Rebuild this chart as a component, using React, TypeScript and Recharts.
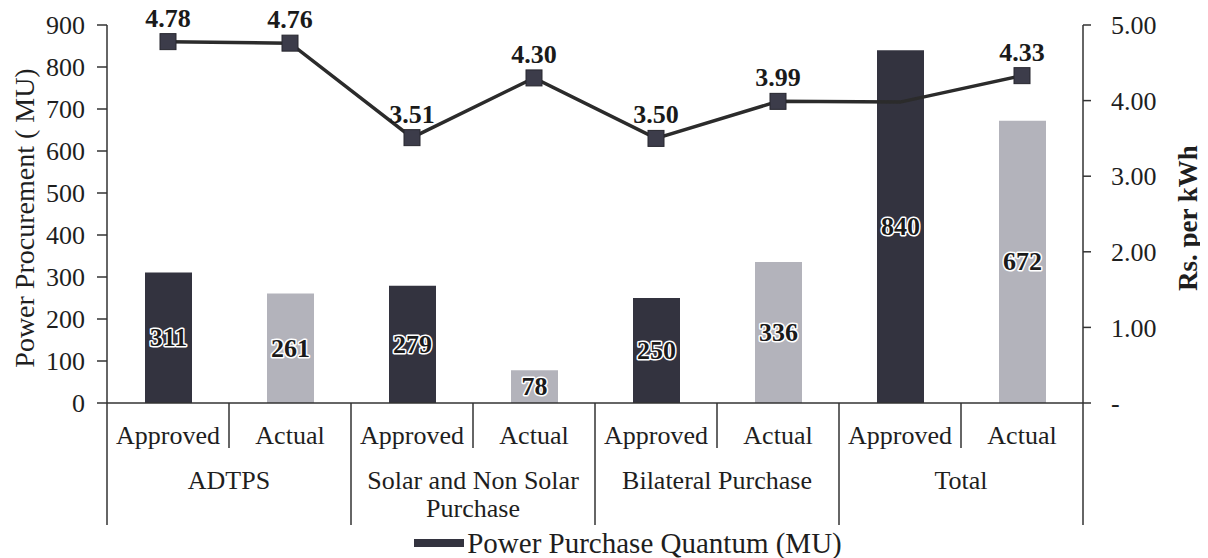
import React from 'react';
import { ComposedChart, Bar, Line, XAxis, YAxis, Cell, LabelList, Legend } from 'recharts';

const groupLines: string[][] = [['ADTPS'], ['Solar and Non Solar', 'Purchase'], ['Bilateral Purchase'], ['Total']];
const subLabels = ['Approved', 'Actual', 'Approved', 'Actual', 'Approved', 'Actual', 'Approved', 'Actual'];
const quantum = [311, 261, 279, 78, 250, 336, 840, 672];
const rate = [4.78, 4.76, 3.51, 4.3, 3.5, 3.99, 3.98, 4.33];
// label texts shown above the rate markers (the Total/Approved point sits hidden behind its bar)
const rateLabels = ['4.78', '4.76', '3.51', '4.30', '3.50', '3.99', '', '4.33'];
const leftTicks = [0, 100, 200, 300, 400, 500, 600, 700, 800, 900];
const rightTicks = [0, 1, 2, 3, 4, 5];

const data = subLabels.map((s, i) => ({
  id: `${groupLines[Math.floor(i / 2)].join(' ')}|${s}`,
  quantum: quantum[i],
  rate: rate[i],
  rateLabel: rateLabels[i],
}));

const FONT = '"Liberation Serif", "Times New Roman", serif';
const DARK = '#33333f';
const LIGHT = '#b3b3bb';
const TEXT = '#1e1e1e';

const XTick = (props: any) => {
  const { x, y, index, width } = props;
  const n = subLabels.length;
  const bw = width ? width / n : 122;
  const els: any[] = [];
  els.push(
    <text key="s" x={x} y={y + 41} textAnchor="middle" fontFamily={FONT} fontSize={26} fill={TEXT}>
      {subLabels[index]}
    </text>
  );
  if (index % 2 === 0) {
    els.push(<line key="d" x1={x + bw / 2} x2={x + bw / 2} y1={y} y2={y + 45} stroke="#333" strokeWidth={1.5} />);
    els.push(<line key="g" x1={x - bw / 2} x2={x - bw / 2} y1={y} y2={y + 122} stroke="#333" strokeWidth={1.5} />);
    const g = groupLines[index / 2];
    g.forEach((t, j) =>
      els.push(
        <text key={'t' + j} x={x + bw / 2} y={y + 86 + j * 28} textAnchor="middle" fontFamily={FONT} fontSize={26} fill={TEXT}>
          {t}
        </text>
      )
    );
  }
  if (index === n - 1) {
    els.push(<line key="e" x1={x + bw / 2} x2={x + bw / 2} y1={y} y2={y + 122} stroke="#333" strokeWidth={1.5} />);
  }
  return <g>{els}</g>;
};

const LeftTitle = (props: any) => {
  const vb = props.viewBox || { x: 0, y: 17, width: 99, height: 378 };
  const cx = vb.x + 16;
  const cy = vb.y + vb.height / 2 + 4;
  return (
    <text x={cx} y={cy} transform={`rotate(-90 ${cx} ${cy})`} textAnchor="middle" dominantBaseline="central"
      fontFamily={FONT} fontSize={28} fill={TEXT}>
      Power Procurement ( MU)
    </text>
  );
};

const RightTitle = (props: any) => {
  const vb = props.viewBox || { x: 1075, y: 17, width: 125, height: 378 };
  const cx = vb.x + 105;
  const cy = vb.y + vb.height / 2 + 4;
  return (
    <text x={cx} y={cy} transform={`rotate(-90 ${cx} ${cy})`} textAnchor="middle" dominantBaseline="central"
      fontFamily={FONT} fontSize={27} fontWeight="bold" fill={TEXT}>
      Rs. per kWh
    </text>
  );
};

const SquareDot = (props: any) => {
  const { cx, cy, payload } = props;
  if (cx == null || cy == null) return null;
  if (payload && !payload.rateLabel) return null;
  return <rect x={cx - 8} y={cy - 8} width={16} height={16} fill="#3c3c4a" stroke="#26262e" strokeWidth={1} />;
};

const BarValueLabel = (props: any) => {
  const { x, y, width, height, value } = props;
  const cx = x + width / 2;
  const cy = y + height / 2;
  return (
    <text x={cx} y={cy} textAnchor="middle" dominantBaseline="central" fontFamily={FONT} fontSize={26}
      fontWeight="bold" fill="#1a1a1a" stroke="#ffffff" strokeWidth={3} paintOrder="stroke" strokeLinejoin="round">
      {value}
    </text>
  );
};

const LineValueLabel = (props: any) => {
  const { x, y, value } = props;
  if (!value) return null;
  return (
    <text x={x} y={y - 15} textAnchor="middle" fontFamily={FONT} fontSize={26} fontWeight="bold" fill="#1a1a1a">
      {value}
    </text>
  );
};

const LegendContent = () => (
  <div style={{ display: 'flex', justifyContent: 'center', alignItems: 'center', paddingLeft: 40, fontFamily: FONT, fontSize: 29, color: TEXT, lineHeight: '30px' }}>
    <span style={{ display: 'inline-block', width: 50, height: 8, background: DARK, marginRight: 3 }} />
    <span>Power Purchase Quantum (MU)</span>
  </div>
);

export default function App() {
  return (
    <ComposedChart
      width={1200}
      height={550}
      data={data}
      margin={{ top: 17, right: 0, left: 0, bottom: 0 }}
      style={{ background: '#fff' }}
    >
      <XAxis
        dataKey="id"
        xAxisId="x"
        height={125}
        tickSize={0}
        tickMargin={0}
        tickLine={false}
        axisLine={{ stroke: '#333', strokeWidth: 1.5 }}
        tick={<XTick />}
        interval={0}
      />
      <YAxis
        yAxisId="left"
        width={99}
        domain={[0, 900]}
        ticks={leftTicks}
        tickSize={10}
        tickMargin={12}
        axisLine={{ stroke: '#333', strokeWidth: 1.5 }}
        tickLine={{ stroke: '#333', strokeWidth: 1.5 }}
        tick={{ fontFamily: FONT, fontSize: 26, fill: TEXT }}
        label={<LeftTitle />}
      />
      <YAxis
        yAxisId="right"
        orientation="right"
        width={125}
        domain={[0, 5]}
        ticks={rightTicks}
        tickFormatter={(v: number) => (v === 0 ? '-' : v.toFixed(2))}
        tickSize={8}
        tickMargin={20}
        axisLine={{ stroke: '#333', strokeWidth: 1.5 }}
        tickLine={{ stroke: '#333', strokeWidth: 1.5 }}
        tick={{ fontFamily: FONT, fontSize: 26, fill: TEXT }}
        label={<RightTitle />}
      />
      <Bar xAxisId="x" yAxisId="left" dataKey="quantum" barSize={47} isAnimationActive={false} fill={DARK}>
        {data.map((d, i) => (
          <Cell key={d.id} fill={i % 2 === 0 ? DARK : LIGHT} />
        ))}
        <LabelList dataKey="quantum" content={<BarValueLabel />} />
      </Bar>
      <Line
        xAxisId="x"
        yAxisId="right"
        dataKey="rate"
        stroke="#2b2b2b"
        strokeWidth={3.5}
        dot={<SquareDot />}
        activeDot={false}
        isAnimationActive={false}
        legendType="none"
      >
        <LabelList dataKey="rateLabel" content={<LineValueLabel />} />
      </Line>
      <Legend verticalAlign="bottom" height={30} content={<LegendContent />} />
    </ComposedChart>
  );
}
